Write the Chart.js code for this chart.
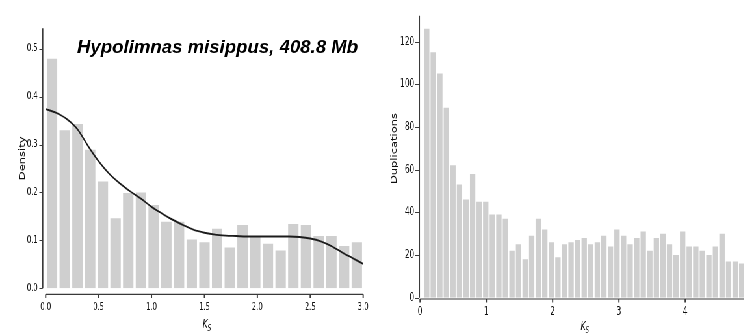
<!DOCTYPE html>
<html>
<head>
<meta charset="utf-8">
<script src="https://cdn.jsdelivr.net/npm/chart.js@4/dist/chart.umd.min.js"></script>
<style>
  html, body { margin: 0; padding: 0; background: #fff; overflow: hidden; width: 744px; height: 333px; }
  #fig { position: absolute; left: 0; top: 0; width: 1180px; height: 333px; transform: scaleX(0.65); transform-origin: 0 0; }
  #fig canvas { position: absolute; top: 0; }
</style>
</head>
<body>
<div id="fig">
  <canvas id="density" width="580" height="333" style="left:0"></canvas>
  <canvas id="dups" width="600" height="333" style="left:580px"></canvas>
</div>
<script>
// The figure is drawn wide and compressed horizontally by this factor.
const SQUEEZE = 0.65;

const TITLE = 'Hypolimnas misippus, 408.8 Mb';

// Left panel: Ks density histogram (bins of 0.12) with its KDE curve
const densityBinCenters = [0.06, 0.18, 0.30, 0.42, 0.54, 0.66, 0.78, 0.90, 1.02, 1.14, 1.26, 1.38, 1.50,
                           1.62, 1.74, 1.86, 1.98, 2.10, 2.22, 2.34, 2.46, 2.58, 2.70, 2.82, 2.94];
const densityValues = [0.479, 0.330, 0.343, 0.289, 0.223, 0.146, 0.199, 0.200, 0.174, 0.139, 0.139, 0.102, 0.096,
                       0.124, 0.085, 0.132, 0.108, 0.093, 0.079, 0.134, 0.132, 0.109, 0.109, 0.088, 0.096];
const kdeKs = [0.0, 0.1, 0.2, 0.3, 0.4, 0.5, 0.6, 0.7, 0.8, 0.9, 1.0, 1.1, 1.2, 1.3, 1.4, 1.5,
               1.6, 1.7, 1.8, 1.9, 2.0, 2.1, 2.2, 2.3, 2.4, 2.5, 2.6, 2.7, 2.8, 2.9, 3.0];
const kdeDensity = [0.374, 0.366, 0.353, 0.332, 0.297, 0.265, 0.239, 0.219, 0.202, 0.187, 0.170, 0.156, 0.143,
                    0.132, 0.122, 0.116, 0.112, 0.110, 0.109, 0.108, 0.108, 0.108, 0.108, 0.108, 0.107, 0.104,
                    0.098, 0.088, 0.075, 0.063, 0.051];
const densityXTicks = [0, 0.5, 1.0, 1.5, 2.0, 2.5, 3.0];
const densityYTicks = [0, 0.1, 0.2, 0.3, 0.4, 0.5];

// Right panel: number of duplications per Ks bin
const dupFirstBinCenter = 0.1;
const dupBinWidth = 0.099;
const dupCounts = [126, 115, 105, 89, 62, 53, 46, 58, 45, 45, 39, 39, 37, 22, 25, 18, 29, 37, 32, 26,
                   19, 25, 26, 27, 28, 25, 26, 29, 24, 32, 29, 25, 28, 31, 22, 28, 30, 25, 20, 31,
                   24, 24, 22, 20, 24, 30, 17, 17, 16];
const dupXTicks = [0, 1, 2, 3, 4, 5];
const dupYTicks = [0, 20, 40, 60, 80, 100, 120];

const BAR = '#cfcfcf';
const AXIS = '#3a3a3a';
const TEXT = '#111';
const TICK_FONT = '"DejaVu Sans", sans-serif';

// Detached (offset) spines with outward tick marks, plus axis titles.
function axesPlugin(cfg) {
  return {
    id: 'axes_' + cfg.name,
    afterDraw(chart) {
      const { ctx, chartArea: a, scales: { x, y } } = chart;
      ctx.save();
      ctx.strokeStyle = AXIS;
      // vertical spine
      const sx = a.left - cfg.ySpineGap;
      ctx.lineWidth = 1.9;
      ctx.beginPath();
      ctx.moveTo(sx, y.getPixelForValue(0));
      ctx.lineTo(sx, a.top);
      ctx.stroke();
      ctx.lineWidth = 1.2;
      ctx.beginPath();
      cfg.yTicks.forEach(v => {
        const py = Math.round(y.getPixelForValue(v)) + 0.5;
        ctx.moveTo(sx - cfg.yTickLen, py);
        ctx.lineTo(sx, py);
      });
      ctx.stroke();
      // horizontal spine
      const sy = a.bottom + cfg.xSpineGap;
      ctx.lineWidth = 1.2;
      ctx.beginPath();
      ctx.moveTo(x.getPixelForValue(cfg.xTicks[0]), sy);
      ctx.lineTo(x.getPixelForValue(cfg.xTicks[cfg.xTicks.length - 1]), sy);
      ctx.stroke();
      ctx.lineWidth = 1.9;
      ctx.beginPath();
      cfg.xTicks.forEach(v => {
        const px = x.getPixelForValue(v);
        ctx.moveTo(px, sy);
        ctx.lineTo(px, sy + cfg.xTickLen);
      });
      ctx.stroke();

      // y axis title
      ctx.fillStyle = TEXT;
      ctx.save();
      ctx.translate(cfg.yTitleX, cfg.yTitleY);
      ctx.rotate(-Math.PI / 2);
      ctx.font = '11.5px "DejaVu Sans", sans-serif';
      ctx.textAlign = 'center';
      ctx.textBaseline = 'middle';
      ctx.fillText(cfg.yTitle, 0, 0);
      ctx.restore();

      // x axis title: K with subscript S
      ctx.textBaseline = 'alphabetic';
      ctx.textAlign = 'left';
      ctx.font = 'italic 12px "DejaVu Sans", sans-serif';
      const wK = ctx.measureText('K').width;
      ctx.font = 'italic 8.5px "DejaVu Sans", sans-serif';
      const wS = ctx.measureText('S').width;
      const x0 = cfg.xTitleX - (wK + wS) / 2;
      ctx.font = 'italic 12px "DejaVu Sans", sans-serif';
      ctx.fillText('K', x0, cfg.xTitleBase);
      ctx.font = 'italic 8.5px "DejaVu Sans", sans-serif';
      ctx.fillText('S', x0 + wK - 0.5, cfg.xTitleBase + 2.5);

      if (cfg.title) {
        // the species label keeps its natural width
        ctx.save();
        ctx.scale(1 / SQUEEZE, 1);
        ctx.fillStyle = '#000';
        ctx.font = 'italic bold 18.6px "Liberation Sans", Arial, sans-serif';
        ctx.fillText(cfg.title, 77, 52.7);
        ctx.restore();
      }
      ctx.restore();
    }
  };
}

function scaleX(min, max, ticks, fmt, pad, height, size) {
  return {
    type: 'linear', min, max, offset: false,
    grid: { display: false, drawTicks: false, offset: false },
    border: { display: false },
    ticks: { padding: pad, color: TEXT, font: { family: TICK_FONT, size }, maxRotation: 0, autoSkip: false, callback: fmt },
    afterBuildTicks: s => { s.ticks = ticks.map(v => ({ value: v })); },
    afterFit: s => { s.height = height; }
  };
}
function scaleY(min, max, ticks, fmt, pad, width, size) {
  return {
    type: 'linear', min, max,
    grid: { display: false, drawTicks: false },
    border: { display: false },
    ticks: { padding: pad, color: TEXT, font: { family: TICK_FONT, size }, autoSkip: false, callback: fmt },
    afterBuildTicks: s => { s.ticks = ticks.map(v => ({ value: v })); },
    afterFit: s => { s.width = width; }
  };
}

const common = {
  responsive: false, animation: false, devicePixelRatio: 1,
  plugins: { legend: { display: false }, tooltip: { enabled: false } }
};

new Chart(document.getElementById('density'), {
  type: 'bar',
  data: {
    datasets: [
      {
        type: 'line', order: 0,
        data: kdeKs.map((k, i) => ({ x: k, y: kdeDensity[i] })),
        borderColor: '#1c1c1c', borderWidth: 1.9, pointRadius: 0, cubicInterpolationMode: 'monotone', fill: false
      },
      {
        type: 'bar', order: 1,
        data: densityBinCenters.map((k, i) => ({ x: k, y: densityValues[i] })),
        backgroundColor: BAR, borderWidth: 0, barPercentage: 0.82, categoryPercentage: 1
      }
    ]
  },
  options: {
    ...common,
    layout: { padding: { left: 0, top: 28.3, right: 13.4, bottom: 0 } },
    scales: {
      x: scaleX(0, 3, densityXTicks, v => Number(v).toFixed(1), 13, 44.7, 10.5),
      y: scaleY(0, 0.5425, densityYTicks, v => Number(v).toFixed(1), 12.3, 70.3, 10.5)
    }
  },
  plugins: [axesPlugin({
    name: 'density', ySpineGap: 4.6, yTickLen: 5.2, xSpineGap: 6, xTickLen: 3.7,
    yTicks: densityYTicks, xTicks: densityXTicks,
    yTitle: 'Density', yTitleX: 35.4, yTitleY: 158.3,
    xTitleX: 318.5, xTitleBase: 328.3, title: TITLE
  })]
});

new Chart(document.getElementById('dups'), {
  type: 'bar',
  data: {
    datasets: [{
      data: dupCounts.map((c, i) => ({ x: dupFirstBinCenter + i * dupBinWidth, y: c })),
      backgroundColor: BAR, borderWidth: 0, barPercentage: 0.82, categoryPercentage: 1
    }]
  },
  options: {
    ...common,
    layout: { padding: { left: 0, top: 0, right: 23.8, bottom: 0 } },
    scales: {
      x: scaleX(0, 5, dupXTicks, v => String(v), 7.5, 35.3, 11.5),
      y: scaleY(0, 132.1, dupYTicks, v => String(v), 8.8, 66.2, 11.5)
    }
  },
  plugins: [axesPlugin({
    name: 'dups', ySpineGap: 1.1, yTickLen: 6.2, xSpineGap: 1.3, xTickLen: 3.5,
    yTicks: dupYTicks, xTicks: dupXTicks,
    yTitle: 'Duplications', yTitleX: 26.9, yTitleY: 148.5,
    xTitleX: 320, xTitleBase: 330
  })]
});
</script>
</body>
</html>
